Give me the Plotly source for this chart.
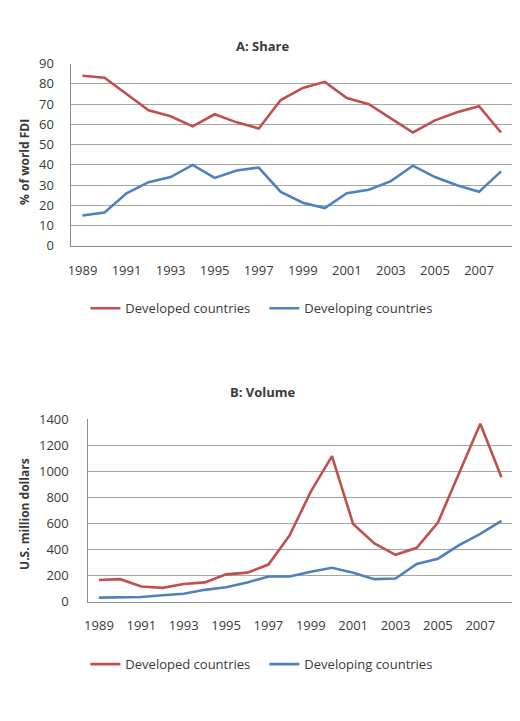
import plotly.graph_objects as go

years = [str(y) for y in range(1989, 2009)]
tick_years = years[::2]

share_developed = [84, 83, 75, 67, 64, 59, 65, 61, 58, 72, 78, 81, 73, 70, 63, 56, 62, 66, 69, 56]
share_developing = [15, 16.5, 26, 31.5, 34, 40, 33.6, 37.2, 38.7, 26.7, 21.3, 18.7, 26, 27.7, 32, 39.6, 34, 30, 26.7, 36.8]

vol_developed = [167, 174, 117, 107, 137, 149, 211, 224, 286, 510, 846, 1119, 597, 448, 361, 415, 609, 982, 1368, 957]
vol_developing = [32, 32, 37, 50, 62, 92, 112, 149, 194, 194, 231, 261, 224, 174, 179, 291, 331, 435, 522, 622]

RED = "#C0504D"
BLUE = "#4F81BD"
W, H = 520, 721
FONT = "Open Sans"
TXT = "#3a3a3a"

def px(x):
    return x / W

def py(y):
    return 1 - y / H

fig = go.Figure()
fig.add_trace(go.Scatter(x=years, y=share_developed, mode="lines", name="Developed countries",
                         line=dict(color=RED, width=2.6), xaxis="x", yaxis="y", legend="legend"))
fig.add_trace(go.Scatter(x=years, y=share_developing, mode="lines", name="Developing countries",
                         line=dict(color=BLUE, width=2.6), xaxis="x", yaxis="y", legend="legend"))
fig.add_trace(go.Scatter(x=years, y=vol_developed, mode="lines", name="Developed countries",
                         line=dict(color=RED, width=2.6), xaxis="x2", yaxis="y2", legend="legend2"))
fig.add_trace(go.Scatter(x=years, y=vol_developing, mode="lines", name="Developing countries",
                         line=dict(color=BLUE, width=2.6), xaxis="x2", yaxis="y2", legend="legend2"))

n = len(years)
axis_common_x = dict(type="category", tickmode="array", tickvals=tick_years, ticktext=tick_years,
                     range=[-0.5, n - 0.5],
                     showgrid=False, showline=True, linecolor="#8c8c8c", linewidth=1,
                     ticks="", tickfont=dict(family=FONT, size=13, color=TXT),
                     ticklabelstandoff=12, fixedrange=True)
axis_common_y = dict(showgrid=True, gridcolor="#a6a6a6", gridwidth=1, showline=True,
                     linecolor="#8c8c8c", linewidth=1, ticks="", zeroline=False,
                     tickfont=dict(family=FONT, size=13, color=TXT))

legend_common = dict(orientation="h", xanchor="left", yanchor="middle",
                     font=dict(family=FONT, size=13, color=TXT), itemwidth=30,
                     entrywidth=134, entrywidthmode="pixels")

fig.update_layout(
    width=W, height=H,
    margin=dict(l=0, r=0, t=0, b=0),
    paper_bgcolor="white", plot_bgcolor="white",
    font=dict(family=FONT, color=TXT),
    xaxis=dict(domain=[px(68), px(512)], anchor="y", **axis_common_x),
    yaxis=dict(domain=[py(243), py(56)], anchor="x", range=[0, 90], dtick=10,
               ticklabelstandoff=14, **axis_common_y),
    xaxis2=dict(domain=[px(85), px(512)], anchor="y2", **axis_common_x),
    yaxis2=dict(domain=[py(608), py(421)], anchor="x2", range=[0, 1400], dtick=200,
                ticklabelstandoff=16, **axis_common_y),
    legend=dict(x=px(82), y=py(307), **legend_common),
    legend2=dict(x=px(82), y=py(672), **legend_common),
    annotations=[
        dict(text="<b>A: Share</b>", x=px(261), y=py(27), xref="paper", yref="paper",
             showarrow=False, font=dict(family=FONT, size=13, color=TXT)),
        dict(text="<b>B: Volume</b>", x=px(261), y=py(393), xref="paper", yref="paper",
             showarrow=False, font=dict(family=FONT, size=13, color=TXT)),
        dict(text="<b>% of world FDI</b>", x=px(20), y=py(157), xref="paper", yref="paper",
             xanchor="center", yanchor="middle",
             textangle=-90, showarrow=False, font=dict(family=FONT, size=12, color=TXT)),
        dict(text="<b>U.S. million dollars</b>", x=px(20), y=py(518), xref="paper", yref="paper",
             xanchor="center", yanchor="middle",
             textangle=-90, showarrow=False, font=dict(family=FONT, size=12, color=TXT)),
    ],
)

fig.write_html("out.html")
